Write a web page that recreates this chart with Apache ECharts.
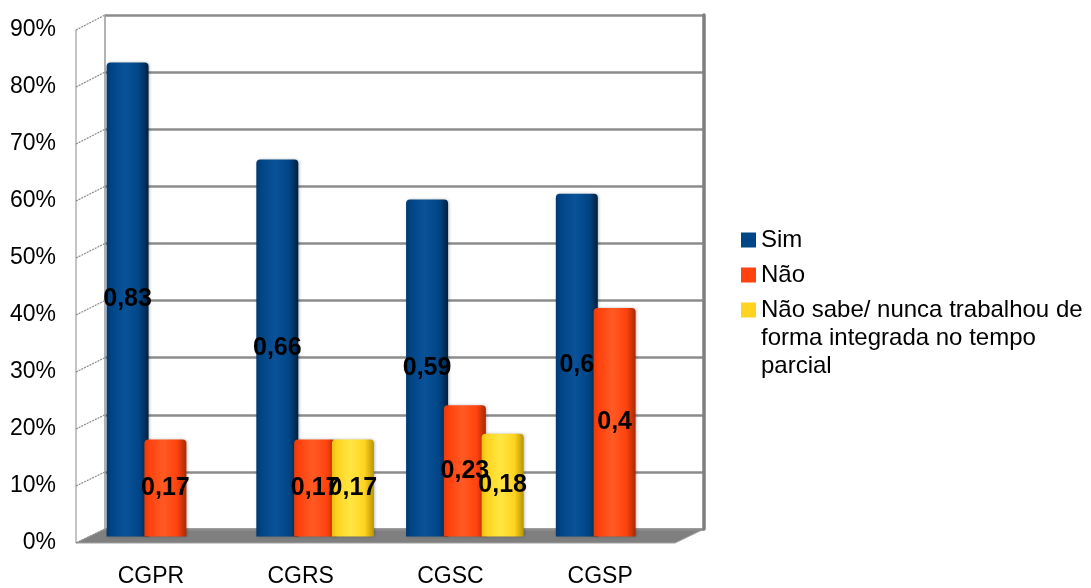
<!DOCTYPE html>
<html>
<head>
<meta charset="utf-8">
<script src="https://cdn.jsdelivr.net/npm/echarts@6/dist/echarts.min.js"></script>
<style>
  html, body { margin: 0; padding: 0; background: #ffffff; }
  #chart { width: 1091px; height: 588px; }
</style>
</head>
<body>
<div id="chart"></div>
<script>
// Category labels and series values (shares of respondents)
const categories = ['CGPR', 'CGRS', 'CGSC', 'CGSP'];
const simValues = [0.83, 0.66, 0.59, 0.6];
const naoValues = [0.17, 0.17, 0.23, 0.4];
const naoSabeValues = [null, 0.17, 0.18, null];
const seriesNames = ['Sim', 'Não', 'Não sabe/ nunca trabalhou de forma integrada no tempo parcial'];
const longLegendLines = ['Não sabe/ nunca trabalhou de', 'forma integrada no tempo', 'parcial'];
const yTicks = [0, 0.1, 0.2, 0.3, 0.4, 0.5, 0.6, 0.7, 0.8, 0.9];

const FONT = '"Liberation Sans", Arial, sans-serif';

// Pseudo-3D layout: front plane (axis labels), mid plane (bars), back wall (grid lines)
const FRONT = { left: 76, top: 30, width: 599, height: 514 };
const DEPTH = { dx: 29, dy: -15 };
function plane(f) {
  return {
    left: FRONT.left + DEPTH.dx * f,
    top: FRONT.top + DEPTH.dy * f,
    width: FRONT.width,
    height: FRONT.height
  };
}
const MID = plane(0.5);
const BACK = plane(1);

function cylinder(dark, base, light, edge) {
  return new echarts.graphic.LinearGradient(0, 0, 1, 0, [
    { offset: 0, color: dark },
    { offset: 0.12, color: base },
    { offset: 0.45, color: light },
    { offset: 0.78, color: base },
    { offset: 1, color: edge }
  ]);
}
const colors = ['#004586', '#ff420e', '#ffd320'];
const fills = [
  cylinder('#003a73', '#004586', '#0a5299', '#00213f'),
  cylinder('#e83a08', '#ff420e', '#ff5a24', '#a82a00'),
  cylinder('#e8be10', '#ffd320', '#ffe642', '#b89600')
];

const valueLabel = {
  show: true,
  position: 'inside',
  color: '#000000',
  fontFamily: FONT,
  fontWeight: 'bold',
  fontSize: 25,
  formatter: p => (p.value == null ? '' : String(p.value).replace('.', ','))
};

const yBase = { type: 'value', min: 0, max: 0.9, interval: 0.1 };

const chart = echarts.init(document.getElementById('chart'), null, { renderer: 'canvas' });

const option = {
  animation: false,
  backgroundColor: '#ffffff',
  grid: [
    Object.assign({}, FRONT),
    Object.assign({}, MID),
    Object.assign({}, BACK)
  ],
  xAxis: [
    {
      type: 'category', data: categories, gridIndex: 0,
      axisLine: { show: false }, axisTick: { show: false },
      axisLabel: { color: '#000', fontFamily: FONT, fontSize: 23, margin: 22 }
    },
    {
      type: 'category', data: categories, gridIndex: 1, show: false
    },
    {
      type: 'category', data: categories, gridIndex: 2, show: false
    }
  ],
  yAxis: [
    Object.assign({}, yBase, {
      gridIndex: 0,
      axisLine: { show: false }, axisTick: { show: false },
      splitLine: { show: false },
      axisLabel: {
        color: '#000', fontFamily: FONT, fontSize: 23, margin: 20,
        formatter: v => Math.round(v * 100) + '%'
      }
    }),
    Object.assign({}, yBase, { gridIndex: 1, show: false }),
    Object.assign({}, yBase, {
      gridIndex: 2,
      axisLine: { show: true, lineStyle: { color: '#9a9a9a', width: 1.5 } },
      axisTick: { show: false },
      axisLabel: { show: false },
      splitLine: { show: true, lineStyle: { color: '#8c8c8c', width: 2.5 } }
    }),
    Object.assign({}, yBase, {
      gridIndex: 2, position: 'right',
      axisLine: { show: true, lineStyle: { color: '#7f7f7f', width: 3.5 } },
      axisTick: { show: false },
      axisLabel: { show: false },
      splitLine: { show: false }
    })
  ],
  legend: [
    {
      orient: 'vertical', left: 741, top: 226, padding: 0,
      itemWidth: 15, itemHeight: 15, itemGap: 7, icon: 'rect',
      selectedMode: false,
      textStyle: { color: '#000', fontFamily: FONT, fontSize: 24, lineHeight: 28 },
      data: [
        { name: seriesNames[0], itemStyle: { color: colors[0] } },
        { name: seriesNames[1], itemStyle: { color: colors[1] } }
      ]
    },
    {
      // two empty leading lines keep the first text line level with the icon
      orient: 'vertical', left: 741, top: 240, padding: 0,
      itemWidth: 15, itemHeight: 15, icon: 'rect',
      selectedMode: false,
      formatter: () => '\n\n' + longLegendLines.join('\n'),
      textStyle: { color: '#000', fontFamily: FONT, fontSize: 24, lineHeight: 28 },
      data: [
        { name: seriesNames[2], itemStyle: { color: colors[2] } }
      ]
    }
  ],
  series: [simValues, naoValues, naoSabeValues].map((vals, i) => ({
    name: seriesNames[i],
    type: 'bar',
    xAxisIndex: 1,
    yAxisIndex: 1,
    data: vals,
    barWidth: 42,
    barGap: '-10%',
    z: 3,
    itemStyle: {
      color: fills[i],
      borderRadius: [4, 4, 0, 0],
      shadowColor: 'rgba(0,0,0,0.25)',
      shadowBlur: 3,
      shadowOffsetX: 1
    },
    label: valueLabel
  }))
};

chart.setOption(option);

// Floor and side wall drawn from the back/front axis geometry
function drawWalls() {
  const yFront = v => chart.convertToPixel({ yAxisIndex: 0 }, v);
  const yBack = v => chart.convertToPixel({ yAxisIndex: 2 }, v);
  const fl = FRONT.left, fr = FRONT.left + FRONT.width;
  const bl = BACK.left, br = BACK.left + BACK.width;
  const elements = [];
  // grey floor
  elements.push({
    type: 'polygon', z: -1, silent: true,
    shape: { points: [[bl, yBack(0)], [br, yBack(0)], [fr, yFront(0)], [fl, yFront(0)]] },
    style: { fill: '#7f7f7f', stroke: '#a0a0a0', lineWidth: 1 }
  });
  // front-left edge of the side wall
  elements.push({
    type: 'line', z: -1, silent: true,
    shape: { x1: fl, y1: yFront(yTicks[yTicks.length - 1]), x2: fl, y2: yFront(0) },
    style: { stroke: '#b0b0b0', lineWidth: 1.5 }
  });
  // slanted tick lines on the side wall
  yTicks.forEach(t => {
    elements.push({
      type: 'line', z: -1, silent: true,
      shape: { x1: fl, y1: yFront(t), x2: bl, y2: yBack(t) },
      style: { stroke: '#8a8a8a', lineWidth: 1.2, lineDash: [2, 1] }
    });
  });
  chart.setOption({ graphic: elements });
}
drawWalls();
</script>
</body>
</html>
